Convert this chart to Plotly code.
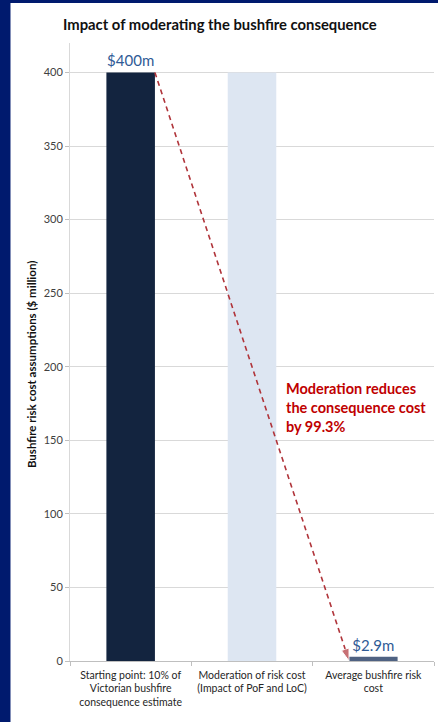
import plotly.graph_objects as go

# Waterfall-style steps, values in $ million
categories = [
    "Starting point: 10% of<br>Victorian bushfire<br>consequence estimate",
    "Moderation of risk cost<br>(Impact of PoF and LoC)",
    "Average bushfire risk<br>cost",
]
values = [400, 400, 2.9]
value_labels = ["$400m", "", "$2.9m"]
bar_colors = ["#13243f", "#dde6f2", "#4f6282"]
y_ticks = [0, 50, 100, 150, 200, 250, 300, 350, 400]
reduction_pct = 99.3

FONT = "Lato, Open Sans, sans-serif"
positions = list(range(len(categories)))
bar_width = 0.4
half = bar_width / 2

fig = go.Figure()

fig.add_trace(go.Bar(
    x=positions,
    y=values,
    width=bar_width,
    marker=dict(color=bar_colors, line=dict(width=0)),
    text=value_labels,
    textposition="outside",
    cliponaxis=False,
    textfont=dict(family=FONT, size=15, color="#2f5b96"),
    hoverinfo="skip",
    showlegend=False,
))

# Dashed arrow from the starting bar down to the final cost
fig.add_trace(go.Scatter(
    x=[positions[0] + half, positions[2] - half],
    y=[values[0], 0],
    mode="lines+markers",
    line=dict(color="#b0343a", width=1.6, dash="5px,4px"),
    marker=dict(symbol=["circle", "arrow"], size=[0, 13], angleref="previous",
                color="#b0343a"),
    cliponaxis=False,
    hoverinfo="skip",
    showlegend=False,
))

# Overlay axis that carries the tick marks at category boundaries
fig.add_trace(go.Scatter(x=[-0.5, 2.5], y=[0, 0], xaxis="x2", mode="none",
                         hoverinfo="skip", showlegend=False))

fig.add_annotation(
    x=1.26, y=192, xref="x", yref="y",
    text=f"<b>Moderation reduces<br>the consequence cost<br>by {reduction_pct}%</b>",
    showarrow=False, align="left", xanchor="left", yanchor="top",
    font=dict(family=FONT, size=14.5, color="#c00000"),
)

# Vertical value-axis title
fig.add_annotation(
    x=-0.104, y=0.479, xref="paper", yref="paper",
    text="<b>Bushfire risk cost assumptions ($ million)</b>",
    textangle=-90, showarrow=False, xanchor="center", yanchor="middle",
    font=dict(family=FONT, size=11.5, color="#111111"),
)

# Navy frame on the left and top edges
fig.add_shape(type="rect", xref="paper", yref="paper",
              x0=-0.2, x1=-0.1635, y0=-0.11, y1=1.08,
              fillcolor="#001a6e", line=dict(width=0), layer="above")
fig.add_shape(type="rect", xref="paper", yref="paper",
              x0=-0.2, x1=1.02, y0=1.0647, y1=1.08,
              fillcolor="#001a6e", line=dict(width=0), layer="above")

fig.update_layout(
    width=438, height=722,
    margin=dict(l=70, r=4, t=43, b=61),
    paper_bgcolor="white", plot_bgcolor="white",
    font=dict(family=FONT, color="#404040"),
    title=dict(
        text="<b>Impact of moderating the bushfire consequence</b>",
        x=0.502, xref="container", xanchor="center",
        y=1 - 25 / 722, yanchor="middle",
        font=dict(family=FONT, size=14.8, color="#111111"),
    ),
    xaxis=dict(
        range=[-0.5, 2.5], tickvals=positions, ticktext=categories,
        ticks="", showgrid=False, zeroline=False,
        showline=True, linecolor="#bfbfbf", linewidth=1,
        tickfont=dict(family=FONT, size=10.5, color="#262626"),
        ticklabelstandoff=4,
        fixedrange=True,
    ),
    xaxis2=dict(
        range=[-0.5, 2.5], overlaying="x", side="bottom",
        tickvals=[-0.5, 0.5, 1.5, 2.5], ticks="outside", ticklen=4,
        tickcolor="#bfbfbf", showticklabels=False, showgrid=False,
        zeroline=False, showline=False, fixedrange=True,
    ),
    yaxis=dict(
        range=[0, 420], tickvals=y_ticks,
        ticks="outside", ticklen=4, tickcolor="#bfbfbf",
        showgrid=True, gridcolor="#d9d9d9", gridwidth=1,
        zeroline=False, showline=True, linecolor="#d9d9d9", linewidth=1,
        tickfont=dict(family=FONT, size=11, color="#404040"),
        fixedrange=True,
    ),
    bargap=0.6,
)

fig.write_html("out.html")
